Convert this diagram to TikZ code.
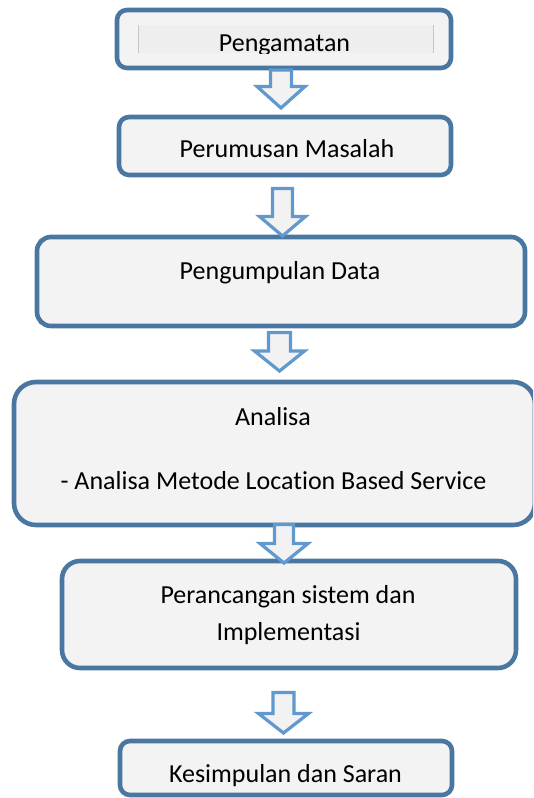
\documentclass[tikz,border=0pt]{standalone}
\usepackage{fontspec}
\setmainfont{Carlito}[Ligatures=NoCommon]

\definecolor{boxedge}{HTML}{4A76A2}
\definecolor{boxfill}{HTML}{F3F3F3}
\definecolor{arrowedge}{HTML}{6198CE}
\definecolor{arrowfill}{HTML}{F2F2F2}
\definecolor{innerfill}{HTML}{EEEEEE}

\tikzset{
  stagebox/.style={draw=boxedge, fill=boxfill, line width=4.6pt, inner sep=0pt, outer sep=0pt},
  stagetext/.style={anchor=base, inner sep=0pt, outer sep=0pt, font=\fontsize{26}{37}\selectfont},
  flowarrow/.style={draw=arrowedge, fill=arrowfill, line width=3.2pt, line join=miter}
}

% hollow block arrow pointing down:
% #1 centre x, #2 top of shaft, #3 top of head, #4 tip, #5 shaft half width, #6 head half width
\newcommand\blockdown[6]{%
  \path[flowarrow] ({#1-#5},#2) -- ({#1+#5},#2) -- ({#1+#5},#3) -- ({#1+#6},#3)
    -- (#1,#4) -- ({#1-#6},#3) -- ({#1-#5},#3) -- cycle;}

\begin{document}
\begin{tikzpicture}[x=1pt, y=-1pt]
  \clip (0,0) rectangle (533,798);
  \useasboundingbox (0,0) rectangle (533,798);

  % stages
  \node[stagebox, rounded corners=10pt, minimum width=334pt, minimum height=58pt]  (b1) at (284,39) {};
  \node[stagebox, rounded corners=10pt, minimum width=332pt, minimum height=58pt]  (b2) at (285,146) {};
  \node[stagebox, rounded corners=14pt, minimum width=488pt, minimum height=89pt]  (b3) at (281,281.5) {};
  \node[stagebox, rounded corners=22pt, minimum width=521pt, minimum height=143pt] (b4) at (274.5,453.5) {};
  \node[stagebox, rounded corners=18pt, minimum width=454pt, minimum height=107pt] (b5) at (289,614.5) {};
  \node[stagebox, rounded corners=10pt, minimum width=332pt, minimum height=54pt]  (b6) at (286,768) {};

  % inner text frame of the first stage
  \fill[innerfill] (138,25) rectangle (433,53);
  \draw[gray!45, line width=0.8pt] (138,25) -- (138,53) (433,25) -- (433,53);
  \begin{scope}
    \clip (138,25) rectangle (433,53);
    \node[stagetext] (t1) at (284.5,51) {Pengamatan};
  \end{scope}

  % stage labels
  \node[stagetext] (t2)  at (287,157)   {Perumusan Masalah};
  \node[stagetext] (t3)  at (280,279)   {Pengumpulan Data};
  \node[stagetext] (t4a) at (273,425)   {Analisa};
  \node[stagetext] (t4b) at (273.5,489) {- Analisa Metode Location Based Service};
  \node[stagetext] (t5a) at (288,603)   {Perancangan sistem dan};
  \node[stagetext] (t5b) at (288.5,640) {Implementasi};
  \node[stagetext] (t6)  at (285.5,782) {Kesimpulan dan Saran};

  % flow arrows between stages
  \blockdown{281}{70}{86.5}{108}{10.5}{24}
  \blockdown{282.5}{188.5}{216.5}{236}{10}{23}
  \blockdown{279.5}{332.5}{351}{371}{11}{25}
  \blockdown{284}{524.5}{543.5}{563}{9.5}{24}
  \blockdown{283.5}{692.5}{713.5}{733}{10.5}{25}
\end{tikzpicture}
\end{document}
